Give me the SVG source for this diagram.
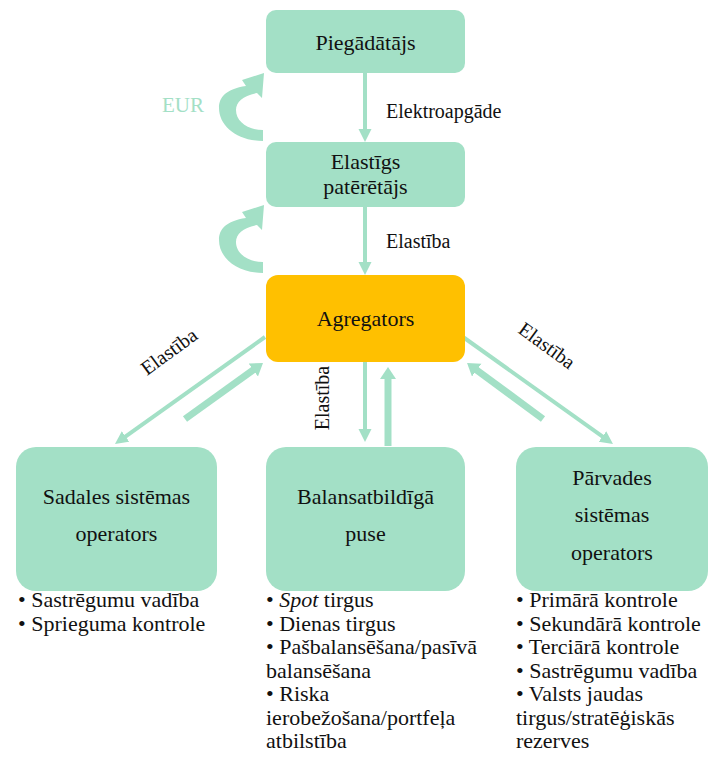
<svg xmlns="http://www.w3.org/2000/svg" width="709" height="769" viewBox="0 0 709 769">
<style>
.g{fill:#A3E0C6}
.o{fill:#FFC000}
.thin{stroke:#A3E0C6;stroke-width:4;fill:none}
.thick{stroke:#A3E0C6;stroke-width:7;fill:none}
text{font-family:"Liberation Serif","Times New Roman",serif}
</style>
<defs>
<marker id="ah" markerUnits="userSpaceOnUse" markerWidth="14" markerHeight="14" refX="5" refY="6.5" orient="auto"><path d="M0,0 L13,6.5 L0,13 Z" fill="#A3E0C6"/></marker>
<marker id="ahk" markerUnits="userSpaceOnUse" markerWidth="14" markerHeight="17" refX="4" refY="8" orient="auto"><path d="M0,0 L12,8 L0,16 Z" fill="#A3E0C6"/></marker>
<path id="curv" d="M263,141 C237,141 219,126 219,108 C219,97 226,89 246,86 L242,80 L264,73 L262,98 L257,93 C243,96 236,102 236,110 C236,121 247,130 263,130 Z"/>
</defs>

<g id="connectors">
<line class="thin" x1="365" y1="73" x2="365" y2="134" marker-end="url(#ah)"/>
<line class="thin" x1="365" y1="207" x2="365" y2="267" marker-end="url(#ah)"/>
<line class="thin" x1="365" y1="362" x2="365" y2="434" marker-end="url(#ah)"/>
<line class="thick" x1="388" y1="446" x2="388" y2="375" marker-end="url(#ahk)"/>
<line class="thin" x1="265" y1="337" x2="121.5" y2="439.4" marker-end="url(#ah)"/>
<line class="thick" x1="185" y1="419" x2="256.5" y2="367.7" marker-end="url(#ahk)"/>
<line class="thin" x1="463" y1="337" x2="606.5" y2="439.4" marker-end="url(#ah)"/>
<line class="thick" x1="543" y1="419" x2="473.5" y2="367.7" marker-end="url(#ahk)"/>
<use href="#curv" class="g"/>
<use href="#curv" class="g" transform="translate(0,132)"/>
<g font-size="20" fill="#111">
<text x="162" y="112" font-size="21" fill="#A3E0C6">EUR</text>
<text x="386" y="118">Elektroapgāde</text>
<text x="386" y="248">Elastība</text>
<text text-anchor="middle" transform="translate(173,357) rotate(-36)">Elastība</text>
<text text-anchor="middle" transform="translate(543,351) rotate(36)">Elastība</text>
<text text-anchor="middle" transform="translate(329,398) rotate(-90)">Elastība</text>
</g>
</g>

<g font-size="22" fill="#111" text-anchor="middle">
<g id="piegadatajs">
<rect class="g" x="266" y="10" width="199" height="63" rx="10"/>
<text x="365.5" y="50">Piegādātājs</text>
</g>

<g id="elastigs-pateretajs">
<rect class="g" x="266" y="142" width="199" height="65" rx="10"/>
<text x="365.5" y="169">Elastīgs</text>
<text x="365.5" y="194">patērētājs</text>
</g>

<g id="agregators">
<rect class="o" x="266" y="275" width="199" height="87" rx="12"/>
<text x="365.5" y="326">Agregators</text>
</g>

<g id="sadales">
<rect class="g" x="16" y="447" width="201" height="144" rx="20"/>
<text x="116.5" y="504">Sadales sistēmas</text>
<text x="116.5" y="541">operators</text>
</g>

<g id="balansatbildiga">
<rect class="g" x="266" y="447" width="199" height="144" rx="20"/>
<text x="365.5" y="504">Balansatbildīgā</text>
<text x="365.5" y="541">puse</text>
</g>

<g id="parvades">
<rect class="g" x="516" y="447" width="192" height="144" rx="20"/>
<text x="612" y="485">Pārvades</text>
<text x="612" y="522">sistēmas</text>
<text x="612" y="560">operators</text>
</g>
</g>

<g font-size="22" fill="#111">
<g id="list-sadales">
<text x="18" y="607">• Sastrēgumu vadība</text>
<text x="18" y="630.5">• Sprieguma kontrole</text>
</g>

<g id="list-balans">
<text x="266" y="607">• <tspan font-style="italic">Spot</tspan> tirgus</text>
<text x="266" y="630.5">• Dienas tirgus</text>
<text x="266" y="654">• Pašbalansēšana/pasīvā</text>
<text x="266" y="677.5">balansēšana</text>
<text x="266" y="701">• Riska</text>
<text x="266" y="724.5">ierobežošana/portfeļa</text>
<text x="266" y="748">atbilstība</text>
</g>

<g id="list-parvades">
<text x="516" y="607">• Primārā kontrole</text>
<text x="516" y="630.5">• Sekundārā kontrole</text>
<text x="516" y="654">• Terciārā kontrole</text>
<text x="516" y="677.5">• Sastrēgumu vadība</text>
<text x="516" y="701">• Valsts jaudas</text>
<text x="516" y="724.5">tirgus/stratēģiskās</text>
<text x="516" y="748">rezerves</text>
</g>
</g>
</svg>
